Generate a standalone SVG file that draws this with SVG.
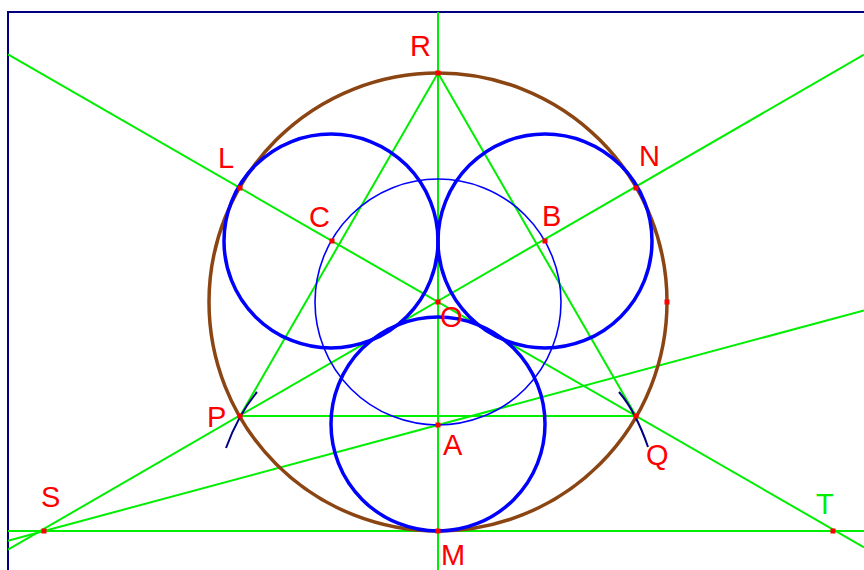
<svg xmlns="http://www.w3.org/2000/svg" width="864" height="570" viewBox="0 0 864 570">
<style>
.g{stroke:#00ee00;stroke-width:2;fill:none}
.thick{stroke:#0000ff;stroke-width:3.5;fill:none}
.thin{stroke:#0000ff;stroke-width:1.6;fill:none}
.arc{stroke:#000080;stroke-width:2;fill:none}
.pt{fill:#ff0000}
.lbl{font-family:"Liberation Sans",Arial,sans-serif;font-size:29px;fill:#ff0000}
</style>
<rect x="0" y="0" width="864" height="570" fill="#ffffff"/>
<rect x="8" y="12" width="870" height="570" fill="none" stroke="#000080" stroke-width="2"/>
<g id="connectors">
<line class="g" x1="438" y1="12" x2="438" y2="570"/>
<line class="g" x1="8" y1="531" x2="864" y2="531"/>
<line class="g" x1="240" y1="416" x2="636" y2="416"/>
<line class="g" x1="438" y1="73" x2="240" y2="416"/>
<line class="g" x1="438" y1="73" x2="636" y2="416"/>
<line class="g" x1="8" y1="54.4" x2="864" y2="547.3"/>
<line class="g" x1="8" y1="549.6" x2="864" y2="54.7"/>
<line class="g" x1="8" y1="540.7" x2="864" y2="310.4"/>
</g>
<g id="bigcircle"><circle cx="438" cy="302" r="229" fill="none" stroke="#8b4513" stroke-width="3.5"/></g>
<g id="circleO"><circle class="thin" cx="438" cy="302" r="123"/></g>
<g id="circleA"><circle class="thick" cx="438" cy="424" r="107"/></g>
<g id="circleC"><circle class="thick" cx="331" cy="241" r="107"/></g>
<g id="circleB"><circle class="thick" cx="545" cy="241" r="107"/></g>
<g id="arcs">
<path class="arc" d="M226,448 Q238,415 257,392"/>
<path class="arc" d="M619,392 Q636,412 648,447"/>
</g>
<g id="points">
<rect class="pt" x="435.5" y="70.5" width="5" height="5"/>
<rect class="pt" x="237.5" y="185.5" width="5" height="5"/>
<rect class="pt" x="633.5" y="185.5" width="5" height="5"/>
<rect class="pt" x="329.5" y="238.5" width="5" height="5"/>
<rect class="pt" x="542.5" y="238.5" width="5" height="5"/>
<rect class="pt" x="435.5" y="299.5" width="5" height="5"/>
<rect class="pt" x="664.5" y="299.5" width="5" height="5"/>
<rect class="pt" x="237.5" y="413.5" width="5" height="5"/>
<rect class="pt" x="633.5" y="413.5" width="5" height="5"/>
<rect class="pt" x="435.5" y="422.5" width="5" height="5"/>
<rect class="pt" x="435.5" y="528.5" width="5" height="5"/>
<rect class="pt" x="41.5" y="528.5" width="5" height="5"/>
<rect class="pt" x="830.5" y="528.5" width="5" height="5"/>
</g>
<g id="labels">
<text class="lbl" x="410" y="56">R</text>
<text class="lbl" x="218" y="168">L</text>
<text class="lbl" x="639" y="166">N</text>
<text class="lbl" x="309" y="227">C</text>
<text class="lbl" x="542" y="226">B</text>
<text class="lbl" x="440" y="327">O</text>
<text class="lbl" x="207" y="427">P</text>
<text class="lbl" x="646" y="465">Q</text>
<text class="lbl" x="443" y="455">A</text>
<text class="lbl" x="441" y="565">M</text>
<text class="lbl" x="41" y="507">S</text>
<text class="lbl" x="816" y="514" style="fill:#00ee00">T</text>
</g>
</svg>
